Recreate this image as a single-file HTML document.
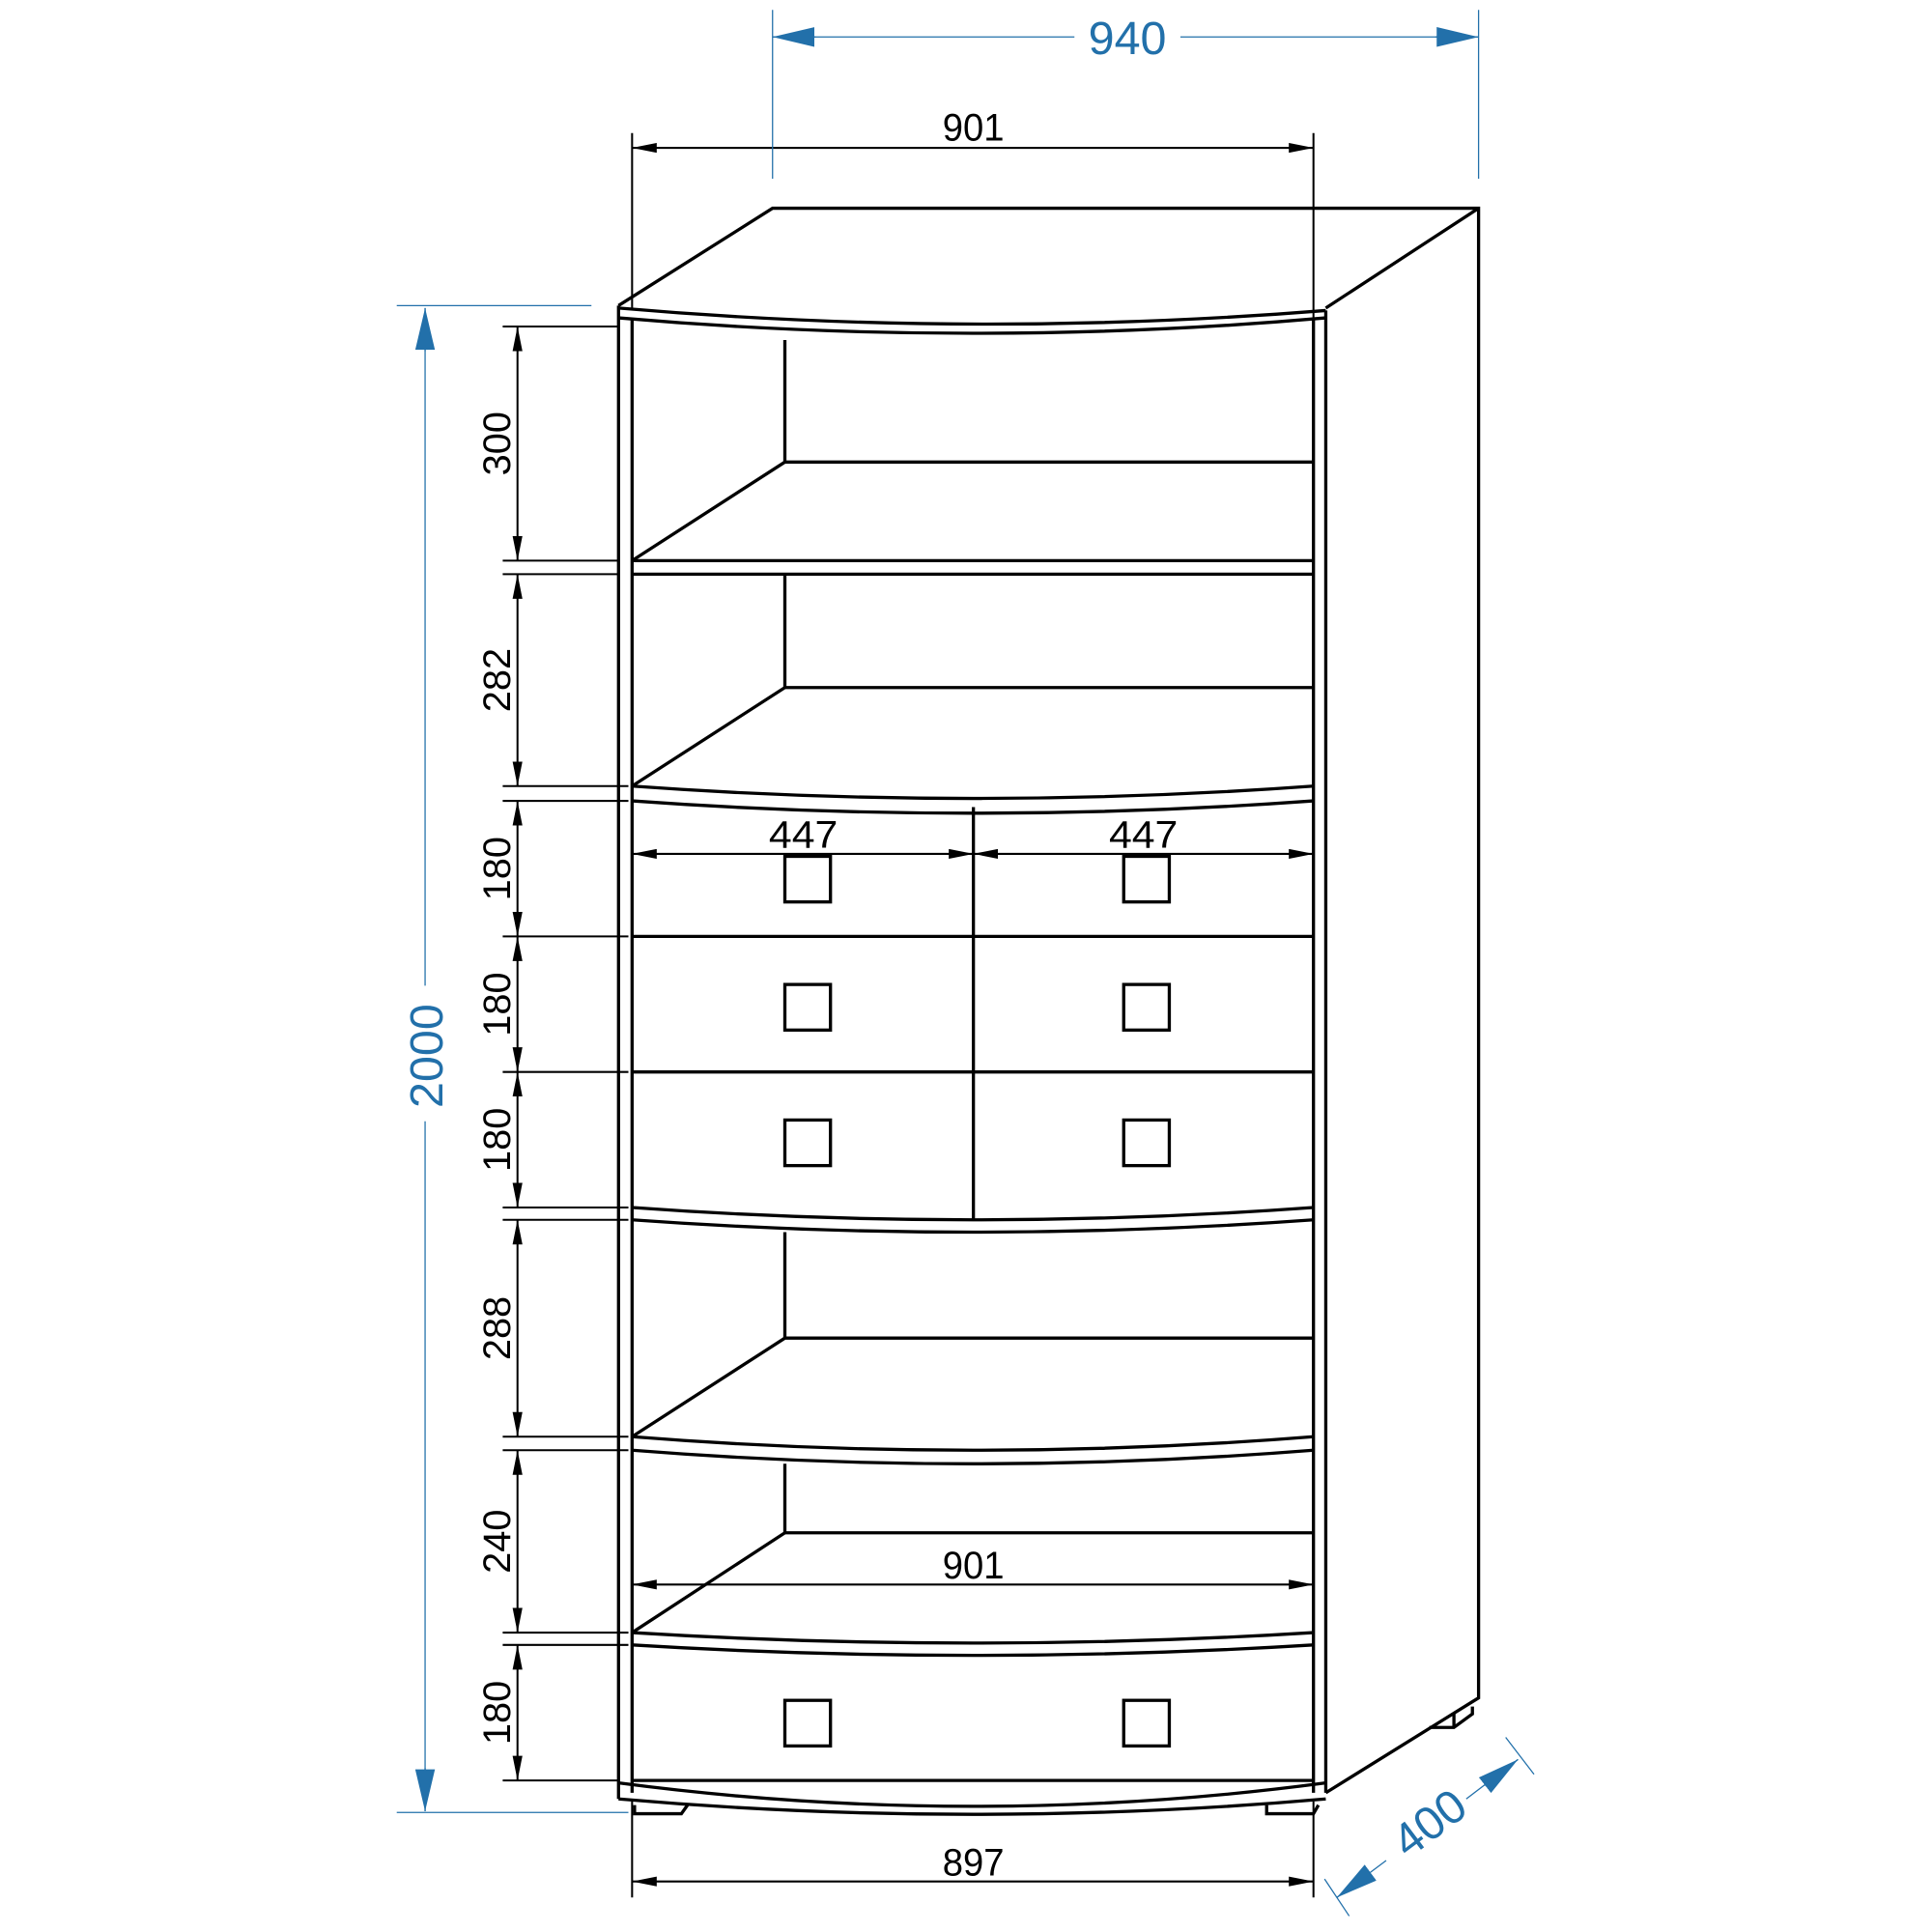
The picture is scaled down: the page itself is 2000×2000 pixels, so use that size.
<!DOCTYPE html>
<html><head><meta charset="utf-8"><style>html,body{margin:0;padding:0;background:#fff}svg{display:block}</style></head>
<body>
<svg width="2000" height="2000" viewBox="0 0 1568 1568" xmlns="http://www.w3.org/2000/svg">
<defs>
<marker id="a" viewBox="0 0 20 8" refX="20" refY="4" markerWidth="20" markerHeight="8" markerUnits="userSpaceOnUse" orient="auto-start-reverse"><path d="M0,0 L20,4 L0,8 z" fill="#000"/></marker>
<marker id="b" viewBox="0 0 34 16" refX="34" refY="8" markerWidth="34" markerHeight="16" markerUnits="userSpaceOnUse" orient="auto-start-reverse"><path d="M0,0 L34,8 L0,16 z" fill="#2270aa"/></marker>
</defs>
<g fill="none" stroke="#000" stroke-width="2.6">
<path d="M502,248 L627,169 L1200,169 L1200,1378 L1076,1455"/>
<path d="M1200,169 L1076,250"/>
<path d="M502,250 Q790,275 1076,252"/>
<path d="M502,258 Q790,283 1076,258"/>
<path d="M502,248 L502,1460"/><path d="M513,258 L513,1455"/>
<path d="M1066,258 L1066,1455"/><path d="M1076,252 L1076,1455"/>
<path d="M637,276 L637,375 L1066,375 M637,375 L513,455"/>
<path d="M513,455 L1066,455 M513,466 L1066,466"/>
<path d="M637,466 L637,558 L1066,558 M637,558 L513,638"/>
<path d="M513,638 Q790,658 1066,638 M513,650 Q790,670 1066,650"/>
<path d="M790,655 L790,990 M513,760 L1066,760 M513,870 L1066,870"/>
<rect x="637" y="695" width="37" height="37"/><rect x="912" y="695" width="37" height="37"/>
<rect x="637" y="799" width="37" height="37"/><rect x="912" y="799" width="37" height="37"/>
<rect x="637" y="909" width="37" height="37"/><rect x="912" y="909" width="37" height="37"/>
<path d="M513,980 Q790,1000 1066,980 M513,990 Q790,1010 1066,990"/>
<path d="M637,1000 L637,1086 L1066,1086 M637,1086 L513,1166"/>
<path d="M513,1166 Q790,1188 1066,1166 M513,1177 Q790,1199 1066,1177"/>
<path d="M637,1188 L637,1244 L1066,1244 M637,1244 L513,1325"/>
<path d="M513,1325 Q790,1342 1066,1325 M513,1335 Q790,1352 1066,1335"/>
<rect x="637" y="1380" width="37" height="37"/><rect x="912" y="1380" width="37" height="37"/>
<path d="M513,1445 L1066,1445"/>
<path d="M502,1447 Q790,1485 1076,1447"/>
<path d="M502,1460 Q790,1485 1076,1460"/>
<path d="M515,1465 L515,1472 L553,1472 L558,1465 M1028,1465 L1028,1472 L1066,1472 L1070,1465"/>
<path d="M1160,1402 L1180,1402 L1195,1391 L1195,1385 M1180,1402 L1180,1390"/>
</g>
<g stroke="#000" stroke-width="1.6" fill="none">
<path d="M513,108 L513,250 M1066,108 L1066,258"/>
<path d="M513,120 L1066,120" marker-start="url(#a)" marker-end="url(#a)"/>
<path d="M408,265 L502,265 M408,455 L502,455 M408,466 L502,466 M408,638 L510,638 M408,650 L510,650 M408,760 L510,760 M408,870 L510,870 M408,980 L510,980 M408,990 L510,990 M408,1166 L510,1166 M408,1177 L510,1177 M408,1325 L510,1325 M408,1335 L510,1335 M408,1445 L502,1445"/>
<path d="M420,265 L420,455" marker-start="url(#a)" marker-end="url(#a)"/>
<path d="M420,466 L420,638" marker-start="url(#a)" marker-end="url(#a)"/>
<path d="M420,650 L420,760" marker-start="url(#a)" marker-end="url(#a)"/>
<path d="M420,760 L420,870" marker-start="url(#a)" marker-end="url(#a)"/>
<path d="M420,870 L420,980" marker-start="url(#a)" marker-end="url(#a)"/>
<path d="M420,990 L420,1166" marker-start="url(#a)" marker-end="url(#a)"/>
<path d="M420,1177 L420,1325" marker-start="url(#a)" marker-end="url(#a)"/>
<path d="M420,1335 L420,1445" marker-start="url(#a)" marker-end="url(#a)"/>
<path d="M513,693 L790,693" marker-start="url(#a)" marker-end="url(#a)"/>
<path d="M790,693 L1066,693" marker-start="url(#a)" marker-end="url(#a)"/>
<path d="M513,1286 L1066,1286" marker-start="url(#a)" marker-end="url(#a)"/>
<path d="M513,1462 L513,1540 M1066,1462 L1066,1540"/>
<path d="M513,1527 L1066,1527" marker-start="url(#a)" marker-end="url(#a)"/>
</g>
<g font-family="Liberation Sans, sans-serif" font-size="31" fill="#000" text-anchor="middle">
<text x="790" y="114" textLength="50" lengthAdjust="spacingAndGlyphs">901</text>
<text x="652" y="688" textLength="56" lengthAdjust="spacingAndGlyphs">447</text>
<text x="928" y="688" textLength="56" lengthAdjust="spacingAndGlyphs">447</text>
<text x="790" y="1281" textLength="50" lengthAdjust="spacingAndGlyphs">901</text>
<text x="790" y="1522" textLength="50" lengthAdjust="spacingAndGlyphs">897</text>
<text transform="translate(414,360) rotate(-90)" textLength="52" lengthAdjust="spacingAndGlyphs">300</text>
<text transform="translate(414,552) rotate(-90)" textLength="52" lengthAdjust="spacingAndGlyphs">282</text>
<text transform="translate(414,705) rotate(-90)" textLength="52" lengthAdjust="spacingAndGlyphs">180</text>
<text transform="translate(414,815) rotate(-90)" textLength="52" lengthAdjust="spacingAndGlyphs">180</text>
<text transform="translate(414,925) rotate(-90)" textLength="52" lengthAdjust="spacingAndGlyphs">180</text>
<text transform="translate(414,1078) rotate(-90)" textLength="52" lengthAdjust="spacingAndGlyphs">288</text>
<text transform="translate(414,1251) rotate(-90)" textLength="52" lengthAdjust="spacingAndGlyphs">240</text>
<text transform="translate(414,1390) rotate(-90)" textLength="52" lengthAdjust="spacingAndGlyphs">180</text>
</g>
<g stroke="#2270aa" stroke-width="1" fill="none">
<path d="M627,8 L627,145 M1200,8 L1200,145"/>
<path d="M627,30 L872,30 M958,30 L1200,30"/>
<path d="M627,30 L662,30" marker-start="url(#b)"/>
<path d="M1165,30 L1200,30" marker-end="url(#b)"/>
<path d="M322,248 L480,248 M322,1471 L510,1471"/>
<path d="M345,250 L345,800 M345,910 L345,1470"/>
<path d="M345,250 L345,285" marker-start="url(#b)"/>
<path d="M345,1435 L345,1470" marker-end="url(#b)"/>
<path d="M1075,1525 L1095,1555 M1222,1410 L1245,1440"/>
<path d="M1085,1540 L1125,1510 M1190,1460 L1232,1428"/>
<path d="M1085,1540 L1112,1520" marker-start="url(#b)"/>
<path d="M1205,1449 L1232,1428" marker-end="url(#b)"/>
</g>
<g font-family="Liberation Sans, sans-serif" font-size="38" fill="#2270aa" text-anchor="middle">
<text x="915" y="44">940</text>
<text transform="translate(359,857) rotate(-90)">2000</text>
<text transform="translate(1168,1490) rotate(-37)">400</text>
</g>
</svg>
</body></html>
